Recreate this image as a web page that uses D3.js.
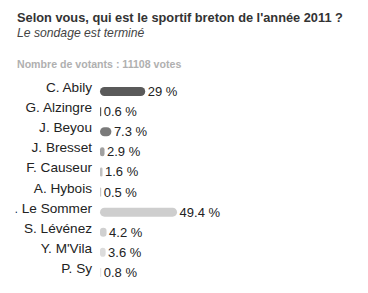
<!DOCTYPE html>
<html>
<head>
<meta charset="utf-8">
<script src="https://cdn.jsdelivr.net/npm/d3@7"></script>
<style>
  body { margin: 0; background: #fff; }
  svg { display: block; font-family: "Liberation Sans", Arial, sans-serif; }
</style>
</head>
<body>
<div id="wrapper"></div>
<script>
const names = ["C. Abily", "G. Alzingre", "J. Beyou", "J. Bresset", "F. Causeur",
  "A. Hybois", "E. Le Sommer", "S. Lévénez", "Y. M'Vila", "P. Sy"]
const percents = [29, 0.6, 7.3, 2.9, 1.6, 0.5, 49.4, 4.2, 3.6, 0.8]
const percentLabels = ["29 %", "0.6 %", "7.3 %", "2.9 %", "1.6 %", "0.5 %", "49.4 %", "4.2 %", "3.6 %", "0.8 %"]
const title = "Selon vous, qui est le sportif breton de l'année 2011 ?"
const subtitle = "Le sondage est terminé"
const votersText = "Nombre de votants : 11108 votes"

const colors = ["#5a5a5a", "#5a5a5a", "#7a7a7a", "#a0a0a0", "#c0c0c0",
  "#c8c8c8", "#cecece", "#d0d0d0", "#dcdcdc", "#e6e6e6"]

const dimensions = {
  width: 368,
  height: 293,
  barLeft: 100,
  labelRight: 92,
  rowTop: 80,
  rowStep: 20.1,
}

const wrapper = d3.select("#wrapper")
  .append("svg")
  .attr("width", dimensions.width)
  .attr("height", dimensions.height)

// the list is cut on the left, like in the original page
wrapper.append("defs").append("clipPath")
  .attr("id", "box")
  .append("rect")
  .attr("x", 15.5).attr("y", 0)
  .attr("width", dimensions.width - 15.5).attr("height", dimensions.height)

const root = wrapper.append("g").attr("clip-path", "url(#box)")

root.append("text")
  .attr("x", 17).attr("y", 22)
  .style("font-size", "12.8px")
  .style("font-weight", "bold")
  .style("fill", "#333")
  .text(title)

root.append("text")
  .attr("x", 17).attr("y", 37)
  .style("font-size", "12.2px")
  .style("font-style", "italic")
  .style("fill", "#444")
  .text(subtitle)

root.append("text")
  .attr("x", 17).attr("y", 68)
  .style("font-size", "10.6px")
  .style("font-weight", "bold")
  .style("fill", "#b0b0b0")
  .text(votersText)

const yScale = d3.scaleBand()
  .domain(names)
  .range([dimensions.rowTop, dimensions.rowTop + dimensions.rowStep * names.length])

const xScale = d3.scaleLinear()
  .domain([0, 100])
  .range([0, 156])

const rows = root.selectAll(".row")
  .data(names)
  .join("g")
  .attr("class", "row")
  .attr("transform", d => `translate(0,${yScale(d) + yScale.bandwidth() / 2})`)

rows.append("text")
  .attr("x", dimensions.labelRight)
  .attr("y", 2)
  .attr("text-anchor", "end")
  .style("font-size", "13.6px")
  .style("fill", "#222")
  .text(d => d)

const barHeight = 9
rows.append("rect")
  .attr("x", dimensions.barLeft)
  .attr("y", -barHeight / 2 + 1.5)
  .attr("height", barHeight)
  .attr("width", (d, i) => Math.max(1.2, xScale(percents[i])))
  .attr("rx", (d, i) => Math.min(barHeight / 2, xScale(percents[i]) / 2))
  .style("fill", (d, i) => colors[i])

rows.append("text")
  .attr("x", (d, i) => dimensions.barLeft + Math.max(1.2, xScale(percents[i])) + 2.5)
  .attr("y", 6)
  .style("font-size", "13px")
  .style("fill", "#222")
  .text((d, i) => percentLabels[i])
</script>
</body>
</html>
